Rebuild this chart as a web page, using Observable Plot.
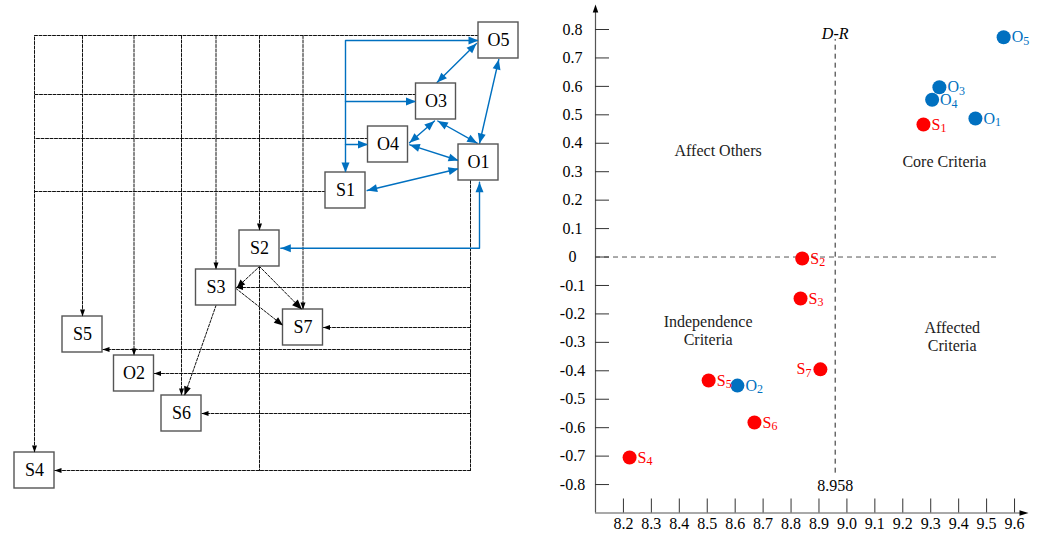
<!DOCTYPE html>
<html><head><meta charset="utf-8">
<script src="https://cdn.jsdelivr.net/npm/d3@7"></script>
<script src="https://cdn.jsdelivr.net/npm/@observablehq/plot@0.6"></script>
<style>
body{margin:0;background:#fff;overflow:hidden}
#wrap{display:flex;width:1041px;height:534px;background:#fff}
#wrap svg{display:block;font-family:"Liberation Serif","Times New Roman",serif}
</style></head><body><div id="wrap"></div>
<script>
// ---------------- Scatter (D+R vs D-R) data ----------------
const criteria = ["O5","O3","O4","O1","S1","S2","S3","S7","S5","O2","S6","S4"];
const dPlusR  = [9.561,9.331,9.305,9.460,9.274,8.840,8.834,8.905,8.505,8.608,8.669,8.222];
const dMinusR = [0.773,0.597,0.553,0.487,0.466,-0.005,-0.146,-0.395,-0.434,-0.452,-0.582,-0.705];
const xTicks = [8.2,8.3,8.4,8.5,8.6,8.7,8.8,8.9,9.0,9.1,9.2,9.3,9.4,9.5,9.6];
const yTicks = [0.8,0.7,0.6,0.5,0.4,0.3,0.2,0.1,0,-0.1,-0.2,-0.3,-0.4,-0.5,-0.6,-0.7,-0.8];
const threshold = 8.958;
const quadrantText = ["Affect Others","Core Criteria","Independence\nCriteria","Affected\nCriteria"];
const quadrantX = [8.539,9.349,8.503,9.377];
const quadrantY = [0.375,0.339,-0.258,-0.279];

// ---------------- Diagram data ----------------
const nodeNames = ["O5","O3","O4","O1","S1","S2","S3","S7","S5","O2","S6","S4"];
const nodeCX = [498,435.5,387.5,478,345,259,215.5,302.5,82,133.5,181,34];
const nodeCY = [40,101,144,162,190,248,287,327,334,373,413,470];

const BLUE = "#0070c0", RED = "#ff0000";
const FONT = "'Liberation Serif', 'Times New Roman', serif";

// ---------- diagram geometry ----------
const boxW = 40, boxH = 36;
const N = Object.fromEntries(nodeNames.map((n,i)=>[n,{x:nodeCX[i],y:nodeCY[i]}]));
const X=n=>N[n].x, Y=n=>N[n].y, L=n=>N[n].x-boxW/2, R=n=>N[n].x+boxW/2, T=n=>N[n].y-boxH/2, B=n=>N[n].y+boxH/2;
const busY = 35, busX = X("O1")-8, bottomY = Y("S4");

const gridRoutes = [
  {pts:[[L("O5"),busY],[X("S4"),busY],[X("S4"),T("S4")]], end:true},
  ...["S5","O2","S6","S3","S2","S7"].map(n=>({pts:[[X(n),busY],[X(n),T(n)]], end:true})),
  {pts:[[L("O3"),Y("O3")-7],[X("S4"),Y("O3")-7]]},
  {pts:[[L("O4"),Y("O4")-6],[X("S4"),Y("O4")-6]]},
  {pts:[[L("S1"),Y("S1")+1],[X("S4"),Y("S1")+1]]},
  {pts:[[busX,B("O1")],[busX,bottomY]]},
  ...["S3","S7","O2","S6","S4"].map(n=>({pts:[[busX,Y(n)],[R(n),Y(n)]], end:true})),
  {pts:[[busX,B("S5")-3],[R("S5"),B("S5")-3]], end:true},
  {pts:[[X("S2"),B("S2")],[X("S2"),bottomY]]}
];
const fineRoutes = [
  {pts:[[X("S2"),B("S2")],[R("S3")+1,Y("S3")]], end:true, len:8, wid:7},
  {pts:[[X("S2"),B("S2")],[X("S7")-1,T("S7")]], end:true, len:10, wid:8},
  {pts:[[R("S3"),Y("S3")+1],[L("S7"),Y("S7")-2]], end:true, len:9, wid:7},
  {pts:[[X("S3"),B("S3")],[X("S6")+3,T("S6")]], end:true, len:9, wid:7}
];
const blueRoutes = [
  {pts:[[X("S1"),T("S1")],[X("S1"),Y("O5")],[L("O5"),Y("O5")]], start:true, end:true},
  {pts:[[X("S1"),Y("O3")],[L("O3"),Y("O3")]], end:true},
  {pts:[[X("S1"),Y("O4")],[L("O4"),Y("O4")]], end:true},
  {pts:[[L("O5")-2,Y("O5")+3],[X("O3")+1,T("O3")-1]], start:true, end:true},
  {pts:[[X("O5")+0.3,B("O5")+1],[X("O1")+1,T("O1")-1]], start:true, end:true},
  {pts:[[X("O3")-1.5,B("O3")+1.5],[R("O4")+1.5,Y("O4")-1.7]], start:true, end:true},
  {pts:[[X("O3")+1.8,B("O3")+1.5],[L("O1")+18.7,T("O1")-1.3]], start:true, end:true},
  {pts:[[R("O4")+1.8,Y("O4")+0.3],[L("O1"),Y("O1")-2]], start:true, end:true},
  {pts:[[L("O1"),Y("O1")+6.3],[R("S1")+1.7,Y("S1")]], start:true, end:true},
  {pts:[[X("O1")+1,B("O1")+1.7],[X("O1")+1,Y("S2")-0.3],[R("S2")+1.3,Y("S2")-0.3]], start:true, end:true}
];

function head(p0, p1, len, wid){
  const dx=p1[0]-p0[0], dy=p1[1]-p0[1], l=Math.hypot(dx,dy), ux=dx/l, uy=dy/l;
  const bx=p1[0]-ux*len, by=p1[1]-uy*len, nx=-uy*wid/2, ny=ux*wid/2;
  return [p1,[bx+nx,by+ny],[bx-nx,by-ny]];
}
let uid = 0;
function lineRows(routes){
  const rows=[];
  routes.forEach(r=>{const id=uid++; r.pts.forEach(p=>rows.push({id,x:p[0],y:p[1]}));});
  return rows;
}
function headRows(routes, len, wid){
  const rows=[];
  routes.forEach(r=>{
    const ln=r.len||len, wd=r.wid||wid, P=r.pts;
    if(r.end){const id=uid++; head(P[P.length-2],P[P.length-1],ln,wd).forEach(p=>rows.push({id,x:p[0],y:p[1]}));}
    if(r.start){const id=uid++; head(P[1],P[0],ln,wd).forEach(p=>rows.push({id,x:p[0],y:p[1]}));}
  });
  return rows;
}
const nodes = nodeNames.map(n=>({name:n,x:X(n),y:Y(n)}));

const left = Plot.plot({
  width:530, height:534, margin:0,
  style:{fontFamily:FONT, background:"#fff"},
  x:{domain:[0,530], range:[0,530], axis:null},
  y:{domain:[0,534], range:[0,534], axis:null},
  marks:[
    Plot.line(lineRows(gridRoutes), {x:"x", y:"y", z:"id", stroke:"#111", strokeWidth:1, strokeDasharray:"3,1.5"}),
    Plot.line(lineRows(fineRoutes), {x:"x", y:"y", z:"id", stroke:"#111", strokeWidth:1, strokeDasharray:"2.5,1.5"}),
    Plot.line(lineRows(blueRoutes), {x:"x", y:"y", z:"id", stroke:BLUE, strokeWidth:1.4}),
    Plot.rect(nodes, {x1:d=>d.x-boxW/2, x2:d=>d.x+boxW/2, y1:d=>d.y-boxH/2, y2:d=>d.y+boxH/2, fill:"#fff", stroke:"#555", strokeWidth:1.4}),
    Plot.text(nodes, {x:"x", y:"y", text:"name", fontSize:18, fontFamily:FONT, fill:"#000"}),
    Plot.line(headRows(gridRoutes,7,5), {x:"x", y:"y", z:"id", fill:"#000", stroke:"none", curve:"linear-closed"}),
    Plot.line(headRows(fineRoutes,8,7), {x:"x", y:"y", z:"id", fill:"#000", stroke:"none", curve:"linear-closed"}),
    Plot.line(headRows(blueRoutes,10,8), {x:"x", y:"y", z:"id", fill:BLUE, stroke:"none", curve:"linear-closed"})
  ]
});

// ---------- scatter ----------
const xDom=[8.1,9.65], xRng=[65,498], yDom=[-0.9,0.8], yRng=[512.5,29];
const xs=d3.scaleLinear(xDom,xRng), ys=d3.scaleLinear(yDom,yRng);
const pts = criteria.map((c,i)=>({name:c, x:dPlusR[i], y:dMinusR[i], col:c[0]==="O"?BLUE:RED}));
const x0 = xDom[0], y0 = yDom[0];
const yTop = ys.invert(ys(yDom[1])-17);
function toData(poly,id){return poly.map(p=>({id,x:xs.invert(p[0]),y:ys.invert(p[1])}));}
const arrowRows = [
  ...toData(head([xs(x0),ys(0.6)],[xs(x0),ys(yTop)-8],8,5.5),"ya"),
  ...toData(head([xs(9.5),ys(y0)],[xs(xDom[1]),ys(y0)],9,5.5),"xa")
];
const tickLenX = xs.invert(xs(x0)+14), tickLenY = ys.invert(ys(y0)-14);
const fmtY = d=>d===0?"0":d.toFixed(1);
const labelRight = pts.filter(d=>d.name!=="S7");
const labelLeft = pts.filter(d=>d.name==="S7");
const TF = {fontFamily:FONT};

const right = Plot.plot({
  width:511, height:534, margin:0,
  style:{fontFamily:FONT, background:"#fff"},
  x:{domain:xDom, range:xRng, axis:null},
  y:{domain:yDom, range:yRng, axis:null},
  marks:[
    Plot.ruleY([0], {x1:x0, x2:9.54, stroke:"#555", strokeDasharray:"5,4", strokeWidth:1}),
    Plot.ruleX([threshold], {y1:-0.76, y2:0.765, stroke:"#222", strokeDasharray:"5,4", strokeWidth:1}),
    Plot.ruleX([x0], {y1:y0, y2:yTop, stroke:"#555", strokeWidth:1.2}),
    Plot.ruleY([y0], {x1:x0, x2:9.63, stroke:"#555", strokeWidth:1.2}),
    Plot.line(arrowRows, {x:"x", y:"y", z:"id", fill:"#000", stroke:"none", curve:"linear-closed"}),
    Plot.ruleY(yTicks, {y:d=>d, x1:x0, x2:tickLenX, stroke:"#333", strokeWidth:1}),
    Plot.ruleX(xTicks, {x:d=>d, y1:y0, y2:tickLenY, stroke:"#333", strokeWidth:1}),
    Plot.text(yTicks, {...TF, x:x0, y:d=>d, text:fmtY, dx:-23, fontSize:16, fill:"#000"}),
    Plot.text(xTicks, {...TF, x:d=>d, y:y0, text:d=>d.toFixed(1), dy:11, fontSize:16, fill:"#000"}),
    Plot.text(quadrantText.map((t,i)=>({t,x:quadrantX[i],y:quadrantY[i]})), {...TF, x:"x", y:"y", text:"t", fontSize:16, lineHeight:1.15, fill:"#222"}),
    Plot.text([threshold], {...TF, x:d=>d, y:0.786, text:()=>"D-R", fontSize:16, fontStyle:"italic", fill:"#000"}),
    Plot.text([threshold], {...TF, x:d=>d, y:-0.803, text:d=>String(d), fontSize:16, fill:"#000"}),
    Plot.dot(pts, {x:"x", y:"y", r:7, fill:"col", stroke:"none"}),
    Plot.text(labelRight, {...TF, x:"x", y:"y", text:d=>d.name[0], dx:8, textAnchor:"start", fill:"col", fontSize:16}),
    Plot.text(labelRight.filter(d=>d.name[0]==="O"), {...TF, x:"x", y:"y", text:d=>d.name.slice(1), dx:19.5, dy:4, textAnchor:"start", fill:"col", fontSize:12}),
    Plot.text(labelRight.filter(d=>d.name[0]==="S"), {...TF, x:"x", y:"y", text:d=>d.name.slice(1), dx:17, dy:4, textAnchor:"start", fill:"col", fontSize:12}),
    Plot.text(labelLeft, {...TF, x:"x", y:"y", text:d=>d.name[0], dx:-15, textAnchor:"end", fill:"col", fontSize:16}),
    Plot.text(labelLeft, {...TF, x:"x", y:"y", text:d=>d.name.slice(1), dx:-9, dy:4, textAnchor:"end", fill:"col", fontSize:12})
  ]
});

const wrap = document.getElementById("wrap");
wrap.appendChild(left);
wrap.appendChild(right);
</script></body></html>
